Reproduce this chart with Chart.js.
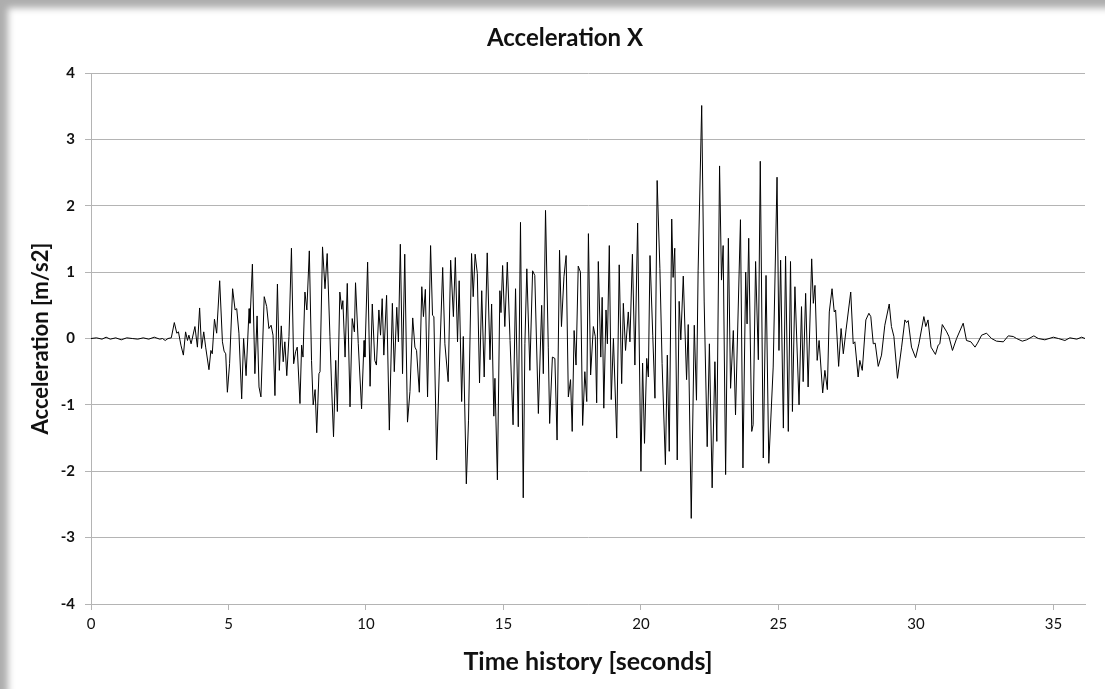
<!DOCTYPE html>
<html>
<head>
<meta charset="utf-8">
<title>Acceleration X</title>
<script src="https://cdn.jsdelivr.net/npm/chart.js@4.4.1/dist/chart.umd.min.js"></script>
<style>
  html, body { margin: 0; padding: 0; background: #fff; }
  #frame {
    position: relative; width: 1105px; height: 689px; background: #fff;
    box-shadow: inset 10px 10px 7px -2px rgba(0,0,0,0.32);
  }
  #canvasAcc { position: absolute; left: 0; top: 0; }
</style>
</head>
<body>
<div id="frame"><canvas id="canvasAcc" width="1105" height="689"></canvas></div>
<script>
// time axis [s]
var timeSec = [
  0, 0.2, 0.4, 0.55, 0.7, 0.9, 1.1, 1.3, 1.5, 1.7, 1.9, 2.1, 2.3, 2.5, 2.6, 2.7, 2.8, 2.92,
  3.03, 3.12, 3.18, 3.27, 3.36, 3.44, 3.51, 3.56, 3.64, 3.78, 3.87, 3.95, 4.02, 4.10, 4.17, 4.29, 4.36, 4.41,
  4.49, 4.57, 4.68, 4.78, 4.84, 4.90, 4.96, 5.04, 5.15, 5.24, 5.30, 5.38, 5.48, 5.55, 5.64, 5.75, 5.78, 5.87,
  5.96, 6.04, 6.11, 6.18, 6.30, 6.39, 6.47, 6.55, 6.62, 6.69, 6.78, 6.85, 6.92, 6.99, 7.05, 7.12, 7.20, 7.29,
  7.37, 7.44, 7.50, 7.60, 7.66, 7.71, 7.78, 7.85, 7.94, 8.02, 8.08, 8.15, 8.21, 8.29, 8.33, 8.42, 8.51, 8.59,
  8.69, 8.75, 8.82, 8.90, 8.96, 9.05, 9.12, 9.16, 9.24, 9.32, 9.42, 9.50, 9.58, 9.62, 9.72, 9.84, 9.93, 9.96,
  10.06, 10.15, 10.23, 10.32, 10.38, 10.47, 10.53, 10.59, 10.65, 10.75, 10.85, 10.96, 11.03, 11.12, 11.18, 11.25,
  11.33, 11.41, 11.51, 11.60, 11.70, 11.78, 11.84, 11.94, 12.03, 12.09, 12.16, 12.24, 12.35, 12.42, 12.47, 12.57,
  12.67, 12.79, 12.87, 12.99, 13.08, 13.18, 13.25, 13.33, 13.39, 13.48, 13.54, 13.65, 13.73, 13.84, 13.90, 13.97,
  14.05, 14.13, 14.21, 14.30, 14.41, 14.51, 14.57, 14.65, 14.69, 14.78, 14.87, 14.91, 14.97, 15.05, 15.14, 15.24,
  15.35, 15.44, 15.54, 15.62, 15.72, 15.78, 15.85, 15.96, 16.06, 16.14, 16.27, 16.39, 16.45, 16.53, 16.63, 16.68,
  16.78, 16.87, 16.95, 17.04, 17.11, 17.20, 17.28, 17.36, 17.44, 17.50, 17.57, 17.64, 17.72, 17.80, 17.88, 17.96,
  18.03, 18.09, 18.17, 18.27, 18.34, 18.39, 18.45, 18.54, 18.59, 18.65, 18.73, 18.78, 18.85, 18.92, 19.00, 19.12,
  19.21, 19.30, 19.36, 19.44, 19.54, 19.60, 19.69, 19.78, 19.88, 20.00, 20.06, 20.13, 20.21, 20.27, 20.33, 20.43,
  20.51, 20.59, 20.69, 20.77, 20.89, 20.96, 21.03, 21.12, 21.17, 21.23, 21.32, 21.39, 21.45, 21.54, 21.66, 21.72,
  21.83, 21.94, 22.02, 22.08, 22.21, 22.30, 22.41, 22.49, 22.59, 22.69, 22.76, 22.86, 22.93, 22.99, 23.08, 23.18,
  23.26, 23.36, 23.44, 23.62, 23.71, 23.81, 23.86, 23.92, 24.03, 24.08, 24.17, 24.27, 24.34, 24.45, 24.55, 24.65,
  24.81, 24.95, 25.02, 25.08, 25.18, 25.26, 25.36, 25.44, 25.51, 25.60, 25.75, 25.84, 25.90, 25.99, 26.08, 26.21,
  26.27, 26.33, 26.41, 26.48, 26.61, 26.69, 26.78, 26.85, 26.95, 27.03, 27.08, 27.19, 27.28, 27.36, 27.46, 27.63,
  27.72, 27.78, 27.90, 27.96, 28.05, 28.18, 28.29, 28.36, 28.45, 28.52, 28.63, 28.75, 28.87, 29.03, 29.11, 29.20,
  29.33, 29.48, 29.60, 29.66, 29.72, 29.84, 29.99, 30.11, 30.29, 30.36, 30.44, 30.55, 30.71, 30.81, 30.87, 30.96,
  31.12, 31.20, 31.33, 31.48, 31.72, 31.84, 32.00, 32.15, 32.24, 32.39, 32.57, 32.75, 32.93, 33.18, 33.36, 33.54,
  33.66, 33.87, 34.03, 34.29, 34.45, 34.69, 35.00, 35.18, 35.42, 35.60, 35.85, 36.03, 36.15
];
// acceleration X [m/s2]
var accelX = [
  0, 0.01, -0.01, 0.02, -0.01, 0.01, -0.02, 0.01, 0.0, -0.01, 0.01, -0.01, 0.02, -0.01, 0.0, -0.03, 0.0, 0.01,
  0.24, 0.08, 0.10, -0.10, -0.25, 0.10, -0.03, 0.05, -0.08, 0.18, -0.13, 0.46, -0.15, 0.10, -0.13, -0.47, -0.18, -0.23,
  0.29, 0.08, 0.87, -0.05, -0.19, -0.23, -0.81, -0.38, 0.75, 0.43, 0.45, 0.08, -0.91, 0.0, -0.56, 0.45, 0.23, 1.12,
  -0.53, 0.34, -0.73, -0.88, 0.63, 0.48, 0.15, 0.20, 0.05, -0.86, 0.82, -0.48, 0.19, -0.35, -0.05, -0.56, 0.03, 1.36,
  -0.38, -0.20, -0.13, -0.98, -0.10, -0.28, 0.70, 0.43, 1.32, -0.33, -1.00, -0.77, -1.42, -0.53, -0.50, 1.38, 0.75, 1.28,
  0.03, -0.73, -1.48, -0.33, -1.10, 0.70, 0.44, 0.57, -0.28, 0.83, -1.03, 0.30, 0.10, 0.84, -0.08, -1.06, -0.03, -0.28,
  1.15, -0.72, 0.52, -0.33, -0.40, 0.43, 0.05, 0.60, -0.25, 0.65, -1.38, 0.53, -0.50, 0.47, -0.05, 1.42,
  -0.53, 1.27, -1.26, -0.80, 0.31, -0.13, -0.18, -0.81, 0.78, 0.33, 0.74, -0.88, 1.40, 0.35, 0.33, -1.83,
  -0.43, 1.07, -0.08, -0.65, 1.18, 0.33, 1.22, -0.05, 0.87, -0.95, 0.03, -2.19, -1.23, 1.28, 0.63, 1.27,
  0.98, -0.67, 0.72, -0.58, 1.29, -0.32, 0.52, -1.17, -0.60, -2.13, 0.72, 0.39, 1.10, 0.18, 1.15, -0.03,
  -1.30, 0.75, -1.33, 1.75, -2.40, -0.08, 1.05, -0.48, 1.02, 0.95, -1.13, 0.50, -0.53, 1.93, -0.13, -1.28,
  -0.28, -0.30, -1.53, 1.33, 0.18, 0.93, 1.25, -0.88, -0.62, -1.40, 0.12, -0.40, 1.09, 1.00, -1.31, -0.50,
  -0.95, 1.58, -0.55, 0.18, 0.03, -0.97, 1.16, -0.28, 0.62, -1.05, 0.43, -0.08, 1.40, -0.92, 0.00, -1.50,
  1.11, -0.68, 0.53, -0.18, 0.40, -0.05, 1.27, -0.40, 1.74, -2.00, -0.37, -1.58, -0.30, -0.58, 1.25, 0.05,
  -0.90, 2.38, 1.05, -0.38, -1.90, -0.25, -1.70, 1.80, 0.92, 1.36, -1.83, 0.56, -0.02, 0.94, -0.62, 0.21,
  -2.71, 0.20, -0.93, 1.02, 3.51, 0.55, -1.63, -0.08, -2.25, -0.35, -1.55, 2.60, 0.88, 1.40, -2.05, 1.51,
  -0.75, 0.12, -1.15, 1.79, -1.95, 1.00, 0.22, 1.51, -1.40, -1.30, 1.16, -0.32, 2.67, -1.80, 0.95, -1.88,
  -0.43, 2.43, -0.18, 1.18, -1.35, 1.24, -1.40, 1.16, -1.10, 0.78, -1.00, 0.48, -0.65, 0.68, -0.73, 1.20,
  0.53, 0.80, -0.33, -0.03, -0.82, -0.48, -0.77, 0.40, 0.75, 0.40, 0.43, -0.42, 0.15, -0.23, 0.13, 0.70,
  -0.08, -0.05, -0.58, -0.33, -0.48, 0.28, 0.38, 0.33, -0.08, -0.07, -0.42, -0.25, 0.20, 0.52, 0.18, 0.03,
  -0.60, -0.13, 0.28, 0.24, 0.27, -0.13, -0.29, -0.08, 0.33, 0.18, 0.28, -0.13, -0.24, -0.10, -0.08, 0.21,
  0.10, 0.03, -0.18, 0.0, 0.23, -0.03, -0.05, -0.13, -0.07, 0.05, 0.08, 0.0, -0.04, -0.05, 0.04, 0.03,
  0.0, -0.04, -0.02, 0.04, 0.0, -0.02, 0.02, 0.0, -0.03, 0.01, -0.01, 0.02, 0.0
];
// tick labels
var xTickLabels = [0, 5, 10, 15, 20, 25, 30, 35];
var yTickLabels = [-4, -3, -2, -1, 0, 1, 2, 3, 4];
var timeMax = 36.15;
var chartTitle = 'Acceleration X';

var gridGray = '#b4b4b4';
var txtColor = '#111';
var fontFam = 'Lato, "Open Sans", "DejaVu Sans", sans-serif';

//챠트 데이터 만들기
var accPoints = [];
for (var i = 0; i < timeSec.length; i++) {
  accPoints.push({ x: timeSec[i], y: accelX[i] });
}

//제목은 직접 그림 (엑셀처럼 약간 오른쪽)
var titlePlugin = {
  id: 'accTitle',
  afterDraw: function (chart) {
    var c = chart.ctx;
    c.save();
    c.fillStyle = txtColor;
    c.font = 'bold 24px ' + fontFam;
    c.textAlign = 'center';
    c.textBaseline = 'middle';
    c.fillText(chartTitle, 565, 38);
    c.restore();
  }
};

var ctx = document.getElementById('canvasAcc').getContext('2d');
window.myLineAcc = new Chart(ctx, {
  type: 'line',
  data: {
    datasets: [{
      label: chartTitle,
      data: accPoints,
      borderColor: '#000',
      borderWidth: 1,
      pointRadius: 0,
      tension: 0,
      fill: false
    }]
  },
  options: {
    responsive: false,
    animation: false,
    devicePixelRatio: 1,
    layout: { padding: { left: 10, right: 20, top: 73, bottom: 10 } },
    plugins: {
      legend: { display: false },
      tooltip: { enabled: false },
      title: { display: false }
    },
    scales: {
      x: {
        type: 'linear',
        min: 0,
        max: timeMax,
        afterBuildTicks: function (scale) {
          scale.ticks = xTickLabels.map(function (v) { return { value: v }; });
        },
        afterFit: function (scale) { scale.height = 75; },
        grid: { drawOnChartArea: false, color: gridGray, tickLength: 6 },
        border: { color: gridGray },
        ticks: { color: txtColor, font: { family: fontFam, size: 15 }, padding: 5, maxRotation: 0 },
        title: {
          display: true,
          text: 'Time history [seconds]',
          color: txtColor,
          font: { family: fontFam, size: 25, weight: 'bold' },
          padding: { top: 0, bottom: 2 }
        }
      },
      y: {
        type: 'linear',
        min: -4,
        max: 4,
        afterBuildTicks: function (scale) {
          scale.ticks = yTickLabels.map(function (v) { return { value: v }; });
        },
        afterFit: function (scale) { scale.width = 81; },
        grid: { color: gridGray, tickLength: 6 },
        border: { color: gridGray },
        ticks: { color: txtColor, font: { family: fontFam, size: 15, weight: 'bold' }, padding: 10 },
        title: {
          display: true,
          text: 'Acceleration [m/s2]',
          color: txtColor,
          font: { family: fontFam, size: 22, weight: 'bold' },
          padding: { top: 18, bottom: 0 }
        }
      }
    }
  },
  plugins: [titlePlugin]
});
</script>
</body>
</html>
